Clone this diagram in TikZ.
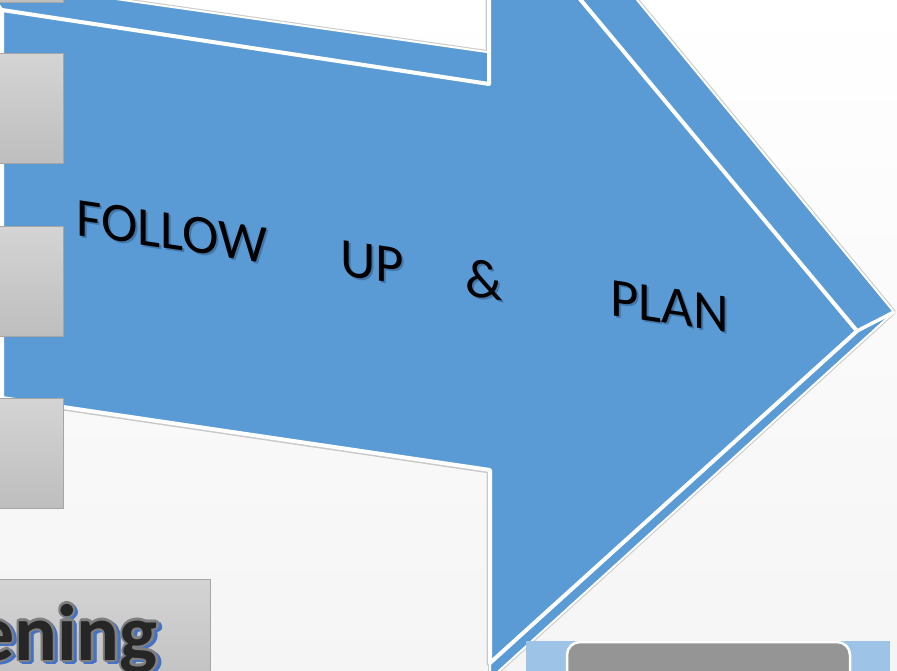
\documentclass[tikz,border=0pt]{standalone}
\usepackage{fontspec}
\setmainfont{Carlito}
\definecolor{arrowblue}{HTML}{5B9BD5}
\definecolor{halo}{HTML}{C9C9C9}
\definecolor{bgbot}{HTML}{F5F5F5}
\definecolor{boxtop}{HTML}{D4D4D4}
\definecolor{boxbot}{HTML}{BEBEBE}
\definecolor{boxline}{HTML}{A6A6A6}
\definecolor{barblue}{HTML}{9DC3E6}
\definecolor{pillgray}{HTML}{959595}
\definecolor{txtdark}{HTML}{262626}
\definecolor{txtgray}{HTML}{7F7F7F}
\definecolor{txtblue}{HTML}{4472C4}
\definecolor{shadowblue}{HTML}{1F3F66}
\tikzset{
  sidebox/.style={draw=boxline, line width=1pt, top color=boxtop, bottom color=boxbot},
  arrowtxt/.style={anchor=base west, inner sep=0pt, yslant=-0.148, text=black,
    font=\fontsize{55}{60}\selectfont},
  arrowshadow/.style={arrowtxt, text=shadowblue, opacity=0.4},
  eningtxt/.style={anchor=base east, inner sep=0pt,
    font=\fontsize{80}{82}\selectfont\bfseries},
}
\begin{document}
\begin{tikzpicture}[x=1pt,y=-1pt]
\useasboundingbox (0,0) rectangle (897,671);
\clip (0,0) rectangle (897,671);
% background
\shade[top color=white, bottom color=bgbot] (0,0) rectangle (897,671);

% front face corners
\coordinate (F1) at (2,10);
\coordinate (F2) at (489,84);
\coordinate (F3) at (489,-110);
\coordinate (F4) at (857,331);
\coordinate (F5) at (490,663);
\coordinate (F6) at (490,470);
\coordinate (F7) at (2,398);
% back face corners
\coordinate (B1) at (-20,-20.4);
\coordinate (B2) at (540,59.6);
\coordinate (B3) at (540,-118);
\coordinate (B4) at (894,312);
\coordinate (B5) at (490,679);
\coordinate (B6) at (490,450);
\coordinate (B7) at (-20,380);

% grey halo of the front face
\draw[halo, line width=7pt, line join=round]
  (F1) -- (F2) -- (F3) -- (F4) -- (F5) -- (F6) -- (F7) -- cycle;
% back face
\draw[halo, line width=4pt, line join=round]
  (B1) -- (B2) -- (B3) -- (B4) -- (B5) -- (B6) -- (B7) -- cycle;
\fill[arrowblue] (B1) -- (B2) -- (B3) -- (B4) -- (B5) -- (B6) -- (B7) -- cycle;
\draw[white, line width=2pt, line join=round]
  (B1) -- (B2) -- (B3) -- (B4) -- (B5) -- (B6) -- (B7) -- cycle;
% front face
\fill[arrowblue] (F1) -- (F2) -- (F3) -- (F4) -- (F5) -- (F6) -- (F7) -- cycle;
\draw[white, line width=4pt, line join=round]
  (F1) -- (F2) -- (F3) -- (F4) -- (F5) -- (F6) -- (F7) -- cycle;
\draw[white, line width=3.5pt] (F4) -- (B4);
\draw[white, line width=3pt] (F1) -- (B1);

% arrow text
\node[arrowshadow] (followsh) at (78,237) {FOLLOW};
\node[arrowtxt] (follow) at (76,235) {FOLLOW};
\node[arrowshadow] (upsh) at (342,277) {UP};
\node[arrowtxt] (up) at (340,275) {UP};
\node[arrowshadow] (ampsh) at (467,297) {\&};
\node[arrowtxt] (amp) at (465,295) {\&};
\node[arrowshadow] (plansh) at (612,317) {PLAN};
\node[arrowtxt] (plan) at (610,315) {PLAN};

% grey boxes on the left
\path[sidebox] (-5,-100) rectangle (63,3);
\path[sidebox] (-5,54) rectangle (63,164);
\path[sidebox] (-5,227) rectangle (63,336);
\path[sidebox] (-5,398) rectangle (63,508);
\path[sidebox] (-5,579) rectangle (210,700);

% "ening" label with outline and shadow
\foreach \a in {0,45,...,315} {
  \path (161,662) ++(\a:2.2) node[eningtxt, text=txtblue, name=esh\a] {ening};
}
\foreach \a in {0,30,...,330} {
  \path (158,660) ++(\a:2.2) node[eningtxt, text=txtgray, name=eol\a] {ening};
}
\node[eningtxt, text=txtdark] (ening) at (158,660) {ening};

% bottom right bar and rounded box
\fill[barblue] (526,641) rectangle (890,690);
\draw[white, line width=2.5pt, fill=pillgray, rounded corners=13pt] (567,642) rectangle (850,720);
\end{tikzpicture}
\end{document}
